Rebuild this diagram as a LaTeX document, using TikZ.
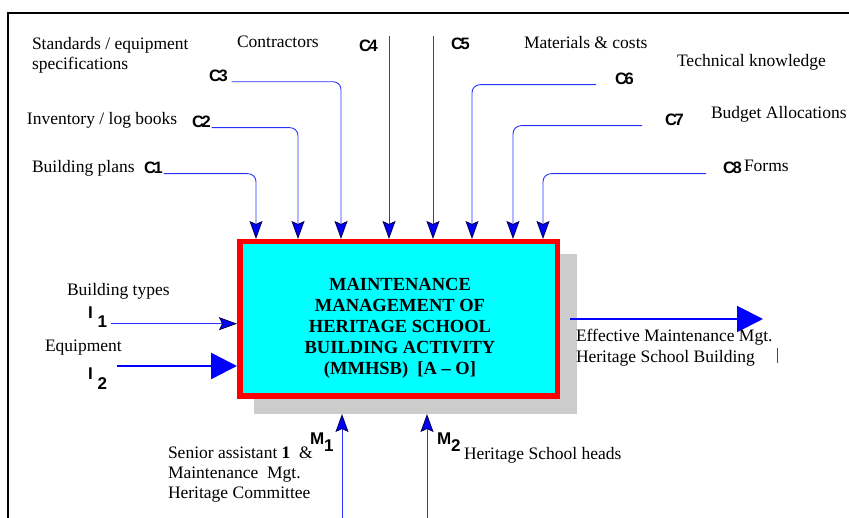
\documentclass[tikz,border=0pt]{standalone}
\usepackage{fontspec}
\setmainfont{Liberation Serif}
\setsansfont{Liberation Sans}
\usetikzlibrary{arrows.meta,positioning}
\definecolor{boxcyan}{RGB}{0,255,255}
\definecolor{linkblue}{RGB}{40,50,255}
\newcommand{\idefC}[1]{C\kern-2.4pt#1}

\begin{document}
\begin{tikzpicture}[x=1pt,y=-1pt,
  lbl/.style={inner sep=0pt,outer sep=0pt,align=left,font=\fontsize{17.5}{20}\selectfont},
  clbl/.style={inner sep=0pt,outer sep=0pt,font=\sffamily\bfseries\fontsize{16.5}{17}\selectfont},
  sublbl/.style={inner sep=0pt,outer sep=0pt,font=\sffamily\bfseries\fontsize{17}{18}\selectfont},
  ctrl/.style={draw=linkblue,line width=0.9pt,-{Stealth[length=18pt,width=13pt,inset=3pt,color=blue!35!black,fill=blue]}},
  bigarrow/.style={draw=blue,-{Triangle[length=26pt,width=26pt]}}]

\useasboundingbox (0,0) rectangle (849,518);
\coordinate(O1) at (0,0);

% frame
\draw[line width=2pt] (8,518) -- (8,13) -- (849,13);

% activity box
\node[fill=gray!40,minimum width=323pt,minimum height=160pt,inner sep=0pt,outer sep=0pt] (shade) at (415.5,334) {};
\node[draw=red,fill=boxcyan,line width=5.5pt,minimum width=317.5pt,minimum height=154.5pt,inner sep=0pt] (box) at (398.5,319) {};
\node[align=center,inner sep=0pt,font=\bfseries\fontsize{18.5}{21}\selectfont] (title) at (400,328) {MAINTENANCE\\MANAGEMENT OF\\HERITAGE SCHOOL\\BUILDING ACTIVITY\\(MMHSB)\ \ [A – O]};

% controls
\node[lbl, below right=37pt and 32pt of O1] (std) {Standards / equipment\\specifications};
\node[lbl, below right=36pt and 237pt of O1] (contr) {Contractors};
\node[lbl, below right=112pt and 27pt of O1] (inv) {Inventory / log books};
\node[lbl, below right=160pt and 32pt of O1] (plans) {Building plans};
\node[lbl, below right=36pt and 524pt of O1] (mat) {Materials \& costs};
\node[lbl, below right=54pt and 677pt of O1] (tech) {Technical knowledge};
\node[lbl, below right=106pt and 711pt of O1] (budget) {Budget Allocations};
\node[lbl, below right=160pt and 744pt of O1] (forms) {Forms};

\node[clbl, below right=162pt and 144pt of O1] (c1) {\idefC1};
\node[clbl, below right=116pt and 192pt of O1] (c2) {\idefC2};
\node[clbl, below right=70pt and 209pt of O1] (c3) {\idefC3};
\node[clbl, below right=40pt and 359pt of O1] (c4) {\idefC4};
\node[clbl, below right=38pt and 451pt of O1] (c5) {\idefC5};
\node[clbl, below right=73pt and 615pt of O1] (c6) {\idefC6};
\node[clbl, below right=114pt and 665pt of O1] (c7) {\idefC7};
\node[clbl, below right=162pt and 723pt of O1] (c8) {\idefC8};

\foreach \n/\x in {1/256,2/298,3/341,4/389,5/433,6/472,7/513,8/543}
  \coordinate (e\n) at (\x,36);

\draw[ctrl, rounded corners=8pt] ([xshift=1pt]c1.south east) -| (box.north -| e1);
\draw[ctrl, rounded corners=8pt] ([xshift=1pt]c2.south east) -| (box.north -| e2);
\draw[ctrl, rounded corners=8pt] ([xshift=4pt]c3.south east) -| (box.north -| e3);
\draw[ctrl] (e4) -- (box.north -| e4);
\draw[ctrl] (e5) -- (box.north -| e5);
\draw[ctrl, rounded corners=8pt] ([xshift=-19pt]c6.south west) -| (box.north -| e6);
\draw[ctrl, rounded corners=8pt] ([xshift=-23pt]c7.south west) -| (box.north -| e7);
\draw[ctrl, rounded corners=8pt] ([xshift=-17pt]c8.south west) -| (box.north -| e8);

% inputs
\node[lbl, below right=283pt and 67pt of O1] (btypes) {Building types};
\node[sublbl, below right=307pt and 88pt of O1] (i1) {I\hspace{5pt}\raisebox{-9pt}{1}};
\node[lbl, below right=340pt and 45pt of O1] (equip) {Equipment};
\node[sublbl, below right=368pt and 88pt of O1] (i2) {I\hspace{5pt}\raisebox{-10pt}{2}};

\coordinate (i1s) at ([shift={(4pt,4pt)}]i1.south east);
\coordinate (i2s) at ([shift={(10pt,2pt)}]i2.north east);
\draw[ctrl] (i1s) -- (i1s -| box.west);
\draw[bigarrow, line width=2.5pt] (i2s) -- (i2s -| box.west);

% output
\coordinate (os) at ([xshift=10pt]box.east);
\coordinate (oe) at (763,0);
\draw[bigarrow, line width=2pt] (os) -- (os -| oe);
\node[lbl, below right=329pt and 576pt of O1, font=\fontsize{17.5}{21}\selectfont] (outtxt) {Effective Maintenance Mgt.\\Heritage School Building};
\draw[linkblue, line width=0.8pt] (777,348) -- (777,363);

% mechanisms
\coordinate (m1) at (342,518);
\coordinate (m2) at (427,518);
\draw[ctrl] (m1) -- (shade.south -| m1);
\draw[ctrl] (m2) -- (shade.south -| m2);
\node[sublbl, below right=433pt and 310pt of O1] (mlab1) {M\raisebox{-7pt}{1}};
\node[lbl, below right=447pt and 168pt of O1] (senior) {Senior assistant \textbf{1} \ \&\\Maintenance \ Mgt.\\Heritage Committee};
\node[sublbl, below right=433pt and 437pt of O1] (mlab2) {M\raisebox{-7pt}{2}};
\node[lbl, below right=447pt and 464pt of O1] (heads) {Heritage School heads};
\end{tikzpicture}
\end{document}
